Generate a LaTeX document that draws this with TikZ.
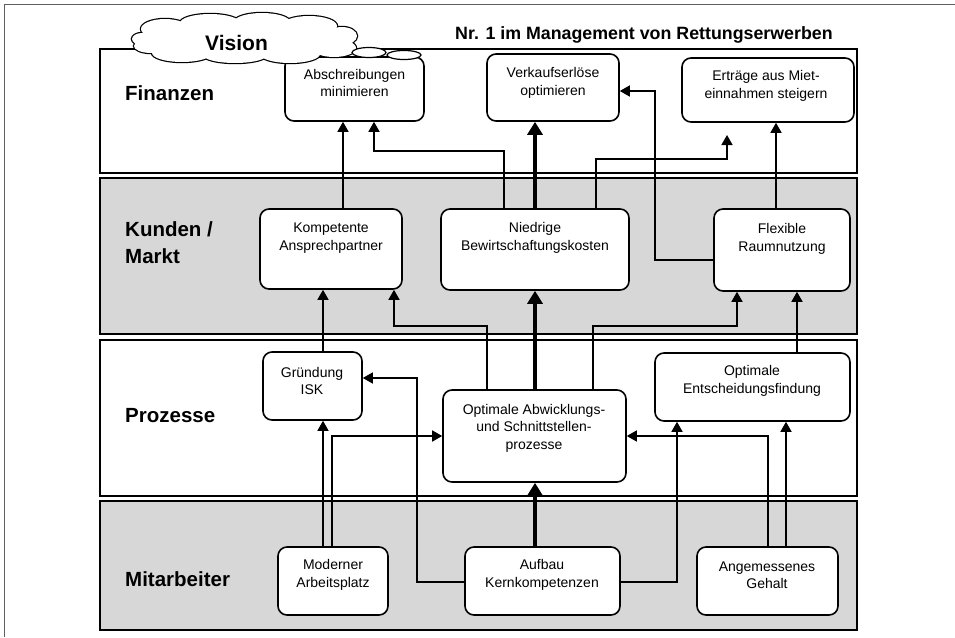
\documentclass[tikz,border=0pt]{standalone}
\usepackage{fontspec}
\setmainfont{Liberation Sans}
\usetikzlibrary{arrows.meta,fit}

\definecolor{bandgray}{RGB}{215,215,215}
\definecolor{framegray}{RGB}{95,95,95}

\tikzset{
  band/.style={draw=black, line width=1.3pt},
  box/.style={draw=black, fill=white, line width=1.6pt, rounded corners=9pt, inner sep=0pt},
  btxt/.style={align=center, inner sep=0pt, font=\fontsize{14}{17.5}\selectfont},
  lbl/.style={anchor=north west, align=left, inner sep=0pt, font=\bfseries\fontsize{20.5}{27}\selectfont},
  conn/.style={line width=1.5pt, -{Triangle[length=10pt,width=11pt]}},
  mainconn/.style={line width=3.2pt, -{Triangle[length=13pt,width=15pt]}},
  puffline/.style={draw=black, line width=2.4pt},
  pufffill/.style={fill=white},
}

\begin{document}
\begin{tikzpicture}[x=1pt,y=-1pt]
\useasboundingbox (0,0) rectangle (955,637);

% page frame
\draw[framegray, line width=0.8pt] (4,637) -- (4,4) -- (955,4);

% perspective bands
\draw[band, fill=white]    (100,49)  rectangle (857,173);
\draw[band, fill=bandgray] (100,178) rectangle (857,334);
\draw[band, fill=white]    (100,340) rectangle (857,496);
\draw[band, fill=bandgray] (100,501) rectangle (857,630);

\node[lbl] (l-fin) at (125,85)  {Finanzen};
\node[lbl] (l-kun) at (125,221) {Kunden /\\Markt};
\node[lbl] (l-pro) at (125,408) {Prozesse};
\node[lbl] (l-mit) at (125,571) {Mitarbeiter};

% objectives
\node[box, fit={(285,57) (424,121)}]  (abs)  {};
\node[box, fit={(487,54) (619,121)}]  (verk) {};
\node[box, fit={(682,58) (854,122)}]  (ertr) {};
\node[box, fit={(260,209) (402,289)}] (kom)  {};
\node[box, fit={(441,209) (629,290)}] (nied) {};
\node[box, fit={(714,209) (850,291)}] (flex) {};
\node[box, fit={(263,352) (362,420)}] (gru)  {};
\node[box, fit={(443,390) (626,482)}] (abw)  {};
\node[box, fit={(655,353) (850,421)}] (ent)  {};
\node[box, fit={(278,547) (388,615)}] (mod)  {};
\node[box, fit={(465,547) (620,615)}] (auf)  {};
\node[box, fit={(697,547) (838,615)}] (ang)  {};

\node[btxt] (abs-t)  at (354.5,83) {Abschreibungen\\minimieren};
\node[btxt] (verk-t) at (553,83)   {Verkaufserlöse\\optimieren};
\node[btxt] (ertr-t) at (766,86)   {Erträge aus Miet-\\einnahmen steigern};
\node[btxt] (kom-t)  at (331,238)  {Kompetente\\Ansprechpartner};
\node[btxt] (nied-t) at (535,238)  {Niedrige\\Bewirtschaftungskosten};
\node[btxt] (flex-t) at (782,239)  {Flexible\\Raumnutzung};
\node[btxt] (gru-t)  at (312,381)  {Gründung\\ISK};
\node[btxt] (abw-t)  at (534,428)  {Optimale Abwicklungs-\\und Schnittstellen-\\prozesse};
\node[btxt] (ent-t)  at (752,381)  {Optimale\\Entscheidungsfindung};
\node[btxt] (mod-t)  at (333,575)  {Moderner\\Arbeitsplatz};
\node[btxt] (auf-t)  at (542,575)  {Aufbau\\Kernkompetenzen};
\node[btxt] (ang-t)  at (767,575)  {Angemessenes\\Gehalt};

% cause-and-effect links
\coordinate (ertr-in) at (727,135);
\draw[conn] (343,0 |- kom.north) -- (343,0 |- abs.south);
\draw[conn] (504,0 |- nied.north) -- (504,151) -- (374,151) -- (374,0 |- abs.south);
\draw[mainconn] (535,0 |- nied.north) -- (535,0 |- verk.south);
\draw[conn] (596,0 |- nied.north) -- (596,159) -- (727,159) -- (ertr-in);
\draw[conn] (flex.west |- 0,260) -- (655,260) -- (655,91) -- (verk.east |- 0,91);
\draw[conn] (776,0 |- flex.north) -- (776,0 |- ertr.south);

\draw[conn] (323,0 |- gru.north) -- (323,0 |- kom.south);
\draw[conn] (487,0 |- abw.north) -- (487,326) -- (394,326) -- (394,0 |- kom.south);
\draw[mainconn] (535,0 |- abw.north) -- (535,0 |- nied.south);
\draw[conn] (593,0 |- abw.north) -- (593,326) -- (737,326) -- (737,0 |- flex.south);
\draw[conn] (797,0 |- ent.north) -- (797,0 |- flex.south);

\draw[conn] (323,0 |- mod.north) -- (323,0 |- gru.south);
\draw[conn] (332,0 |- mod.north) -- (332,436) -- (abw.west |- 0,436);
\draw[conn] (auf.west |- 0,582) -- (417,582) -- (417,378) -- (gru.east |- 0,378);
\draw[mainconn] (535,0 |- auf.north) -- (535,0 |- abw.south);
\draw[conn] (auf.east |- 0,582) -- (677,582) -- (677,0 |- ent.south);
\draw[conn] (768,0 |- ang.north) -- (768,436) -- (abw.east |- 0,436);
\draw[conn] (786,0 |- ang.north) -- (786,0 |- ent.south);

% vision cloud: puffs stroked first, then filled over to clear inner strokes
\def\cloudpuffs{
  (142,39) ellipse [x radius=10, y radius=6]
  (165,29) ellipse [x radius=24, y radius=10]
  (210,23) ellipse [x radius=30, y radius=9]
  (262,22) ellipse [x radius=28, y radius=9]
  (309,26) ellipse [x radius=28, y radius=10]
  (342,36) ellipse [x radius=15, y radius=9]
  (334,48) ellipse [x radius=22, y radius=9]
  (290,54) ellipse [x radius=30, y radius=9]
  (235,55) ellipse [x radius=32, y radius=8]
  (182,53) ellipse [x radius=30, y radius=9]
  (151,46) ellipse [x radius=17, y radius=7]
}
\path[puffline] \cloudpuffs;
\path[pufffill] \cloudpuffs;
\fill[white] (245,39) ellipse [x radius=98, y radius=16];
\draw[fill=white, line width=1.2pt] (369,52.5) ellipse [x radius=17, y radius=5];
\draw[fill=white, line width=1.2pt] (404,55) ellipse [x radius=17, y radius=4.5];
\node[anchor=north, inner sep=0pt, font=\bfseries\fontsize{21}{25}\selectfont] (vision) at (236.5,35) {Vision};

\node[anchor=north west, inner sep=0pt, font=\bfseries\fontsize{17.8}{21}\selectfont] (title) at (455,26)
  {Nr. 1 im Management von Rettungserwerben};
\end{tikzpicture}
\end{document}
